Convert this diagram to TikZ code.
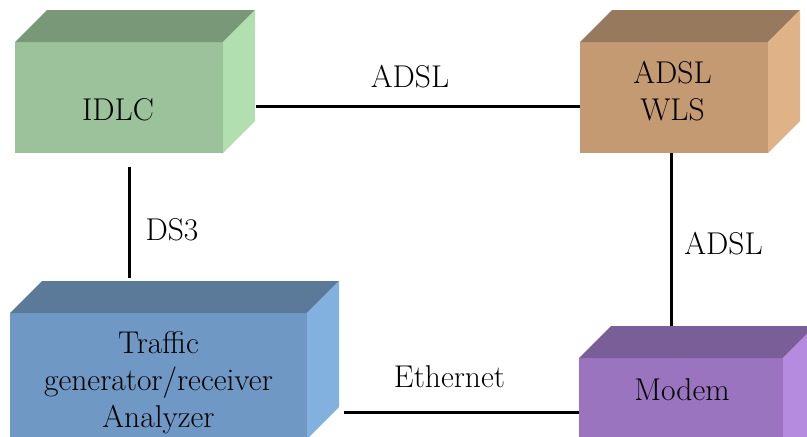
\documentclass[tikz,border=0pt]{standalone}
\definecolor{idlcF}{HTML}{9BC29A}
\definecolor{idlcT}{HTML}{789878}
\definecolor{idlcR}{HTML}{B2DFB0}
\definecolor{wlsF}{HTML}{C39A72}
\definecolor{wlsT}{HTML}{977A5D}
\definecolor{wlsR}{HTML}{DFB387}
\definecolor{trfF}{HTML}{6F98C4}
\definecolor{trfT}{HTML}{5B7A99}
\definecolor{trfR}{HTML}{83B1DF}
\definecolor{modF}{HTML}{9B74BF}
\definecolor{modT}{HTML}{7A5E98}
\definecolor{modR}{HTML}{B48BDF}
% #1 node name, #2 top colour, #3 right colour
\newcommand\cubefaces[3]{%
  \fill[#2] (#1.north west) -- ++(32,-32) -- ([xshift=32pt,yshift=32pt]#1.north east) -- (#1.north east) -- cycle;
  \fill[#3] (#1.north east) -- ++(32,-32) -- ([xshift=32pt,yshift=32pt]#1.south east) -- (#1.south east) -- cycle;
}
\begin{document}
\begin{tikzpicture}[x=1pt,y=-1pt,
  face/.style={rectangle, inner sep=0pt, outer sep=0pt, draw=none},
  lbl/.style={inner sep=0pt, outer sep=0pt, font=\rmfamily\fontsize{31.5}{37}\selectfont, align=center},
  conn/.style={line width=3pt, black}]
\useasboundingbox (0,0) rectangle (807,437);
\fill[white] (0,0) rectangle (807,437);

% box front faces
\node[face, fill=idlcF, minimum width=208pt, minimum height=111pt] (idlc) at (119,97.5) {};
\node[face, fill=wlsF, minimum width=188pt, minimum height=111pt] (wls) at (674,97.5) {};
\node[face, fill=trfF, minimum width=297pt, minimum height=126pt] (trf) at (158.5,376) {};
\node[face, fill=modF, minimum width=204pt, minimum height=112pt] (mod) at (681,414) {};

\cubefaces{idlc}{idlcT}{idlcR}
\cubefaces{wls}{wlsT}{wlsR}
\cubefaces{trf}{trfT}{trfR}
\cubefaces{mod}{modT}{modR}

% box texts
\node[lbl, anchor=base] (idlctxt) at (118,120.7) {IDLC};
\node[lbl] (wlstxt) at (672.5,91.3) {ADSL\\WLS};
\node[lbl] (trftxt) at (158.5,383) {Traffic\\generator/receiver\\Analyzer};
\node[lbl, anchor=base] (modtxt) at (682,400) {Modem};

% connectors
\draw[conn] ([xshift=33pt,yshift=-8.5pt]idlc.east) -- ([yshift=-8.5pt]wls.west);
\draw[conn] ([xshift=10pt,yshift=-14pt]idlc.south) -- ([xshift=-29.5pt,yshift=35pt]trf.north);
\draw[conn] ([xshift=-3pt]wls.south) -- ([xshift=-10pt,yshift=32pt]mod.north);
\draw[conn] ([xshift=37pt,yshift=-36pt]trf.east) -- ([yshift=2pt]mod.west);

% connector labels
\node[lbl, anchor=base] (l1) at (410,87) {ADSL};
\node[lbl, anchor=base] (l2) at (172,240) {DS3};
\node[lbl, anchor=base] (l3) at (723.5,254) {ADSL};
\node[lbl, anchor=base] (l4) at (449.5,387) {Ethernet};
\end{tikzpicture}
\end{document}
